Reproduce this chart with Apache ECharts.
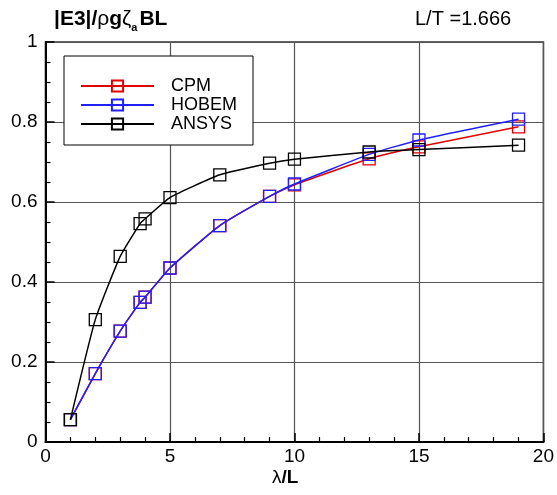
<!DOCTYPE html>
<html>
<head>
<meta charset="utf-8">
<script src="https://cdn.jsdelivr.net/npm/echarts@6/dist/echarts.min.js"></script>
<style>
html,body{margin:0;padding:0;background:#fff;}
#c{width:557px;height:495px;}
</style>
</head>
<body>
<div id="c"></div>
<script>
var xCPM   = [1, 2, 3, 3.8, 4, 5, 7, 9, 10, 13, 15, 19];
var yCPM   = [0.056, 0.171, 0.277, 0.349, 0.362, 0.435, 0.541, 0.614, 0.643, 0.708, 0.738, 0.788];
var xHOBEM = [1, 2, 3, 3.8, 4, 5, 7, 9, 10, 13, 15, 19];
var yHOBEM = [0.056, 0.171, 0.277, 0.349, 0.362, 0.435, 0.541, 0.614, 0.645, 0.719, 0.755, 0.807];
var xANSYS = [1, 2, 3, 3.8, 4, 5, 7, 9, 10, 13, 15, 19];
var yANSYS = [0.056, 0.306, 0.464, 0.546, 0.558, 0.611, 0.668, 0.697, 0.707, 0.725, 0.731, 0.742];
var seriesNames = ['CPM', 'HOBEM', 'ANSYS'];
var seriesColors = ['#e00000', '#2020ff', '#000000'];

function pairs(xs, ys) { return xs.map(function (x, i) { return [x, ys[i]]; }); }
var allData = [pairs(xCPM, yCPM), pairs(xHOBEM, yHOBEM), pairs(xANSYS, yANSYS)];

var FONT = '"Liberation Sans", Arial, Helvetica, sans-serif';
var chart = echarts.init(document.getElementById('c'), null, {renderer: 'canvas'});

var series = seriesNames.map(function (n, i) {
  return {
    name: n,
    type: 'line',
    data: allData[i],
    smooth: 0.15,
    symbol: 'rect',
    symbolSize: 12,
    showAllSymbol: true,
    lineStyle: {color: seriesColors[i], width: 1.5},
    itemStyle: {color: 'rgba(255,255,255,0)', borderColor: seriesColors[i], borderWidth: 1.3},
    emphasis: {disabled: true},
    z: 2 + i
  };
});

chart.setOption({
  animation: false,
  backgroundColor: '#fff',
  grid: {left: 45.5, right: 13, top: 42, bottom: 53, show: true, borderColor: '#333', borderWidth: 1.5, backgroundColor: 'transparent'},
  legend: {
    data: seriesNames,
    orient: 'vertical',
    left: 64, top: 56,
    backgroundColor: '#fff',
    borderColor: '#000',
    borderWidth: 1,
    padding: [21, 16, 12, 16],
    itemWidth: 73,
    itemHeight: 14,
    itemGap: 1,
    textStyle: {fontFamily: FONT, fontSize: 18, color: '#000', lineHeight: 14, padding: [0, 0, 0, 12]},
    selectedMode: false
  },
  xAxis: {
    type: 'value', min: 0, max: 20, interval: 5,
    axisLine: {show: true, onZero: false, lineStyle: {color: '#000', width: 2}},
    axisTick: {show: true, inside: true, length: 9, lineStyle: {color: '#000', width: 1.5}},
    minorTick: {show: true, splitNumber: 5, length: 5, lineStyle: {color: '#000', width: 1.2}},
    axisLabel: {fontFamily: FONT, fontSize: 19, color: '#000', margin: 5},
    splitLine: {show: true, lineStyle: {color: '#555', width: 1.2}}
  },
  yAxis: {
    type: 'value', min: 0, max: 1, interval: 0.2,
    axisLine: {show: true, onZero: false, lineStyle: {color: '#000', width: 2}},
    axisTick: {show: true, inside: true, length: 9, lineStyle: {color: '#000', width: 1.5}},
    minorTick: {show: true, splitNumber: 4, length: 5, lineStyle: {color: '#000', width: 1.2}},
    axisLabel: {fontFamily: FONT, fontSize: 19, color: '#000', margin: 8},
    splitLine: {show: true, lineStyle: {color: '#555', width: 1.2}}
  },
  graphic: [
    {
      type: 'text', left: 54, top: 9,
      style: {
        text: '{b||E3|/}{r|ρ}{b|g}{r|ζ}{s|a}{b|BL}',
        fill: '#000',
        rich: {
          b: {fontFamily: FONT, fontSize: 21, fontWeight: 'bold', fill: '#000', lineHeight: 22, verticalAlign: 'bottom'},
          r: {fontFamily: FONT, fontSize: 21, fontWeight: 'normal', fill: '#000', lineHeight: 22, verticalAlign: 'bottom'},
          s: {fontFamily: FONT, fontSize: 11, fontWeight: 'bold', fill: '#000', lineHeight: 10, verticalAlign: 'bottom', padding: [0, 2, -3, 0]}
        }
      }
    },
    {
      type: 'text', left: 415, top: 9,
      style: {text: 'L/T =1.666', font: '20px ' + FONT, fill: '#000'}
    },
    {
      type: 'text', left: 272, top: 468,
      style: {
        text: '{r|λ}{b|/L}',
        fill: '#000',
        rich: {
          r: {fontFamily: FONT, fontSize: 19, fontWeight: 'normal', fill: '#000'},
          b: {fontFamily: FONT, fontSize: 19, fontWeight: 'bold', fill: '#000'}
        }
      }
    }
  ],
  series: series
});
</script>
</body>
</html>
